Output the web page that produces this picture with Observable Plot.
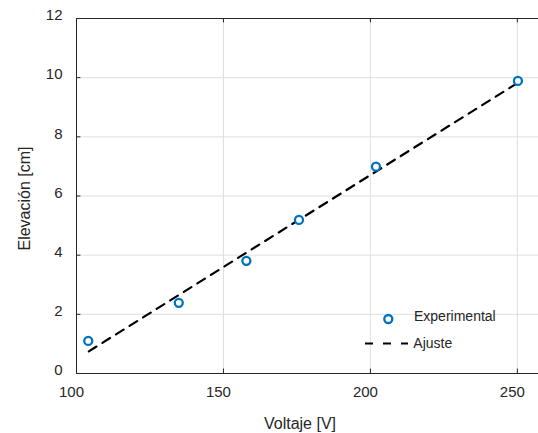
<!DOCTYPE html>
<html>
<head>
<meta charset="utf-8">
<script src="https://cdn.jsdelivr.net/npm/d3@7"></script>
<script src="https://cdn.jsdelivr.net/npm/@observablehq/plot@0.6"></script>
<style>
  body { margin: 0; background: #fff; }
  #chart { width: 538px; height: 433px; }
</style>
</head>
<body>
<div id="chart"></div>
<script>
// Data
const voltaje   = [104.0, 134.8, 157.8, 175.7, 201.9, 250.2];
const elevacion = [1.10, 2.39, 3.81, 5.19, 6.99, 9.89];
const ajusteX   = [104.2, 250.2];
const ajusteY   = [0.75, 9.83];
const xTicks    = [100, 150, 200, 250];
const yTicks    = [0, 2, 4, 6, 8, 10, 12];
const xLabel    = "Voltaje [V]";
const yLabel    = "Elevación [cm]";
const legendLabels = ["Experimental", "Ajuste"];

const points = voltaje.map((v, i) => ({x: v, y: elevacion[i]}));
const fit = ajusteX.map((v, i) => ({x: v, y: ajusteY[i]}));

const ink = "#262626";
const gridColor = "#dfdfdf";
const blue = "#0072BD";

const chart = Plot.plot({
  width: 538,
  height: 433,
  marginLeft: 76,
  marginRight: 0,
  marginTop: 18,
  marginBottom: 60,
  style: {fontFamily: "'Liberation Sans', Arial, sans-serif", fontSize: "15px", color: ink, background: "white"},
  x: {domain: [100, 257.2]},
  y: {domain: [0, 12]},
  marks: [
    Plot.gridX(xTicks.filter(d => d > 100), {stroke: gridColor, strokeOpacity: 1, strokeWidth: 1}),
    Plot.gridY(yTicks.filter(d => d > 0 && d < 12), {stroke: gridColor, strokeOpacity: 1, strokeWidth: 1}),
    Plot.ruleY([0, 12], {stroke: ink, strokeWidth: 1}),
    Plot.ruleX([100], {stroke: ink, strokeWidth: 1}),
    Plot.ruleX(xTicks, {y1: 0, y2: 0.15, stroke: ink}),
    Plot.ruleX(xTicks, {y1: 11.85, y2: 12, stroke: ink}),
    Plot.ruleY(yTicks, {x1: 100, x2: 101.5, stroke: ink}),
    Plot.axisX({ticks: xTicks, tickSize: 0, tickPadding: 13, label: null, dx: -5, fontSize: 15}),
    Plot.axisY({ticks: yTicks, tickSize: 0, tickPadding: 14, label: null, dy: -3, fontSize: 15}),
    Plot.line(fit, {x: "x", y: "y", stroke: "black", strokeWidth: 2.2, strokeDasharray: "9,7"}),
    Plot.dot(points, {x: "x", y: "y", r: 4, stroke: blue, strokeWidth: 2.3, fill: "white"})
  ]
});

document.getElementById("chart").appendChild(chart);

const svg = d3.select(chart);
const font = "'Liberation Sans', Arial, sans-serif";

svg.append("text")
  .attr("x", 300).attr("y", 429)
  .attr("text-anchor", "middle")
  .attr("font-family", font).attr("font-size", 16).attr("fill", ink)
  .text(xLabel);

svg.append("text")
  .attr("transform", "translate(30,198.5) rotate(-90)")
  .attr("text-anchor", "middle")
  .attr("font-family", font).attr("font-size", 16).attr("fill", ink)
  .text(yLabel);

// Legend
const lg = svg.append("g").attr("text-anchor", "start");
lg.append("circle").attr("cx", 388.3).attr("cy", 319).attr("r", 4)
  .attr("fill", "white").attr("stroke", blue).attr("stroke-width", 2.3);
lg.append("text").attr("x", 414).attr("y", 321.3)
  .attr("text-anchor", "start")
  .attr("font-family", font).attr("font-size", 14).attr("fill", ink)
  .text(legendLabels[0]);
lg.append("line").attr("x1", 365).attr("x2", 408).attr("y1", 343.5).attr("y2", 343.5)
  .attr("stroke", "black").attr("stroke-width", 2.2).attr("stroke-dasharray", "8,10");
lg.append("text").attr("x", 413.3).attr("y", 347.5)
  .attr("text-anchor", "start")
  .attr("font-family", font).attr("font-size", 14).attr("fill", ink)
  .text(legendLabels[1]);
</script>
</body>
</html>
